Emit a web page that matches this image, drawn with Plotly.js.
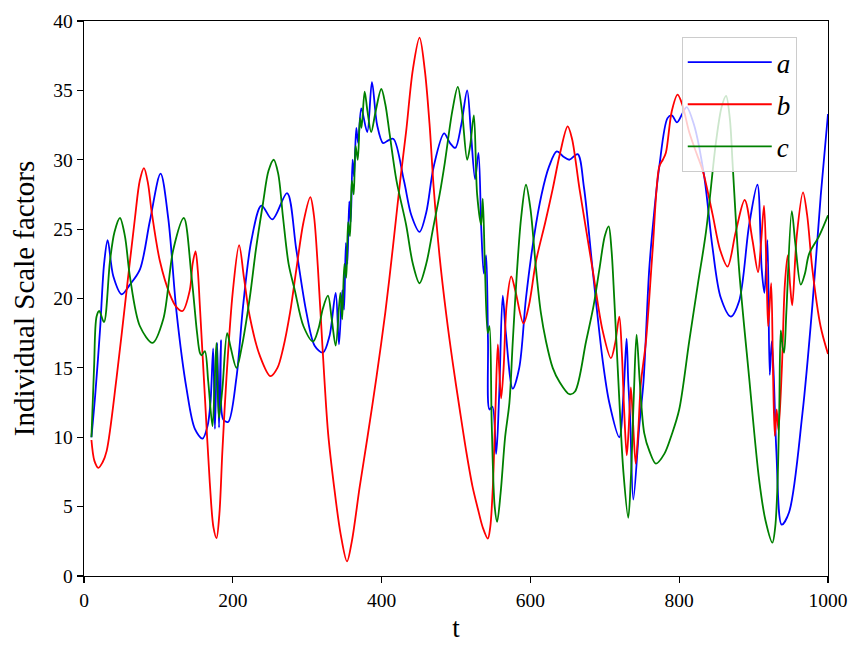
<!DOCTYPE html>
<html>
<head>
<meta charset="utf-8">
<script src="https://cdn.plot.ly/plotly-3.0.1.min.js"></script>
<style>
  html, body { margin: 0; padding: 0; background: #fff; }
  #chart { width: 865px; height: 659px; }
</style>
</head>
<body>
<div id="chart"></div>
<script>
// Individual scale factors a(t), b(t), c(t)

const tA = [10, 15, 21.5, 27, 31.8, 39.4, 50.6, 61.7, 75.2, 88.6, 102.9, 113.2, 124.4, 137.8, 149, 159.3, 166, 170, 173.6, 176, 179, 181.5, 184, 187, 193.7,
  204.9, 213.9, 225, 238.5, 253.2, 272.9, 285.4, 298.9, 310, 321.2, 330, 338.3, 342.7, 347.2, 349.5, 352, 354, 356.5, 358.5, 361, 363, 366, 368.5,
  372.7, 380.7, 387, 394, 402, 409, 416, 430, 440, 451, 460, 470, 484, 492, 499, 507, 515, 520, 525.7, 530.2, 534, 537.4, 540.5, 543, 545, 549,
  554, 558, 562.8, 567, 576.3, 585, 594, 605, 615, 625, 635.4, 645, 652.3, 663.5, 672, 683.6, 697, 706, 719.5, 725, 729.3, 731.5, 734, 738.3,
  746.3, 752, 759.7, 766, 773.2, 784.3, 790, 797, 804, 810, 820, 833.6, 844.7, 855.9, 869.4, 880.5, 894, 905.1, 910.9, 914.5, 918.6, 921.7,
  924.4, 927, 930.6, 937.8, 947.7, 965.6, 979, 990.2, 1000];
const a = [10, 13, 17.7, 22.5, 24.2, 21.6, 20.3, 21.0, 22.1, 25.6, 29.0, 25.8, 19.0, 13.5, 10.6, 9.9, 10.8, 12.5, 16.4, 10.6, 16.8, 10.7, 17.0, 11.3, 11.1,
  14.3, 19.5, 24.2, 26.7, 25.7, 27.6, 23.5, 19.0, 16.6, 16.1, 17.3, 20.4, 16.7, 20.6, 19.2, 24.0, 22.5, 27.0, 25.5, 30.0, 28.8, 32.3, 31.2,
  33.7, 32.0, 35.6, 32.5, 31.2, 31.4, 31.5, 28.5, 26.0, 24.8, 26.2, 29.5, 31.9, 31.2, 30.85, 32.5, 35.0, 32.0, 28.6, 30.5, 25.0, 21.8, 23.1, 17.0, 12.0, 12.2,
  8.8, 13.0, 20.2, 17.5, 13.5, 15.0, 20.0, 24.5, 27.5, 29.5, 30.6, 30.2, 30.0, 30.4, 28.0, 22.1, 15.6, 12.5, 10.0, 13.0, 17.1, 14.0, 11.5, 5.5,
  10.8, 14.0, 22.1, 26.0, 29.5, 33.0, 33.2, 32.7, 33.3, 33.8, 32.5, 28.8, 23.7, 20.05, 18.7, 19.8, 25.3, 28.2, 22.1, 20.4, 24.2, 14.5,
  16.9, 14.5, 9.0, 3.7, 4.6, 11.7, 19.5, 27.4, 33.3];

const tB = [10, 14, 19.3, 25, 30.4, 43.8, 57.3, 68.5, 75, 80.6, 86, 90.8, 102, 115.4, 124, 132.4, 142.2, 146, 149.9, 153, 155.7, 162.4, 169.1, 174, 178.1,
  182, 186, 191.5, 200, 208.5, 215, 222.8, 236.2, 250.6, 260, 267.6, 277, 285.4, 295, 304.2, 309, 314.5, 320, 328, 336, 345, 353.5, 360, 370.5,
  381, 393, 405, 415.2, 425, 433.1, 442, 451, 458, 464.4, 470, 478, 487, 495.8, 505, 513.7, 522, 529.4, 536, 542.8, 546, 549.5, 553, 556.2,
  558.5, 560.7, 564, 568, 574.2, 580, 590.7, 598, 607.6, 620, 630, 640, 650.1, 656, 666, 683.6, 697, 708.2, 714, 719.5, 723, 726.2, 729.5, 732,
  735, 738, 741.5, 745, 748.5, 755.3, 764.3, 773.2, 778, 782.1, 790, 797.8, 804, 813.4, 823, 831.7, 844.7, 855, 865, 876, 888, 898.5, 906, 910,
  914, 917.3, 919.6, 923.6, 926, 928.5, 931, 933.4, 938, 942, 946, 949, 951.9, 958, 966.4, 972, 979, 990, 1000];
const b = [9.8, 8.3, 7.8, 8.2, 9.0, 14.3, 20.6, 25.8, 28.5, 29.4, 28.3, 26.3, 22.7, 20.3, 19.4, 19.1, 20.6, 22.5, 23.4, 22.0, 19.5, 13.0, 6.7, 3.5, 2.73,
  4.5, 9.0, 14.3, 20.5, 23.85, 21.5, 18.7, 15.9, 14.4, 15.0, 16.4, 19.0, 22.1, 25.5, 27.3, 26.0, 22.1, 17.0, 10.35, 6.5, 3.0, 1.05, 2.5, 6.4,
  10.0, 14.3, 19.0, 23.7, 28.5, 32.1, 36.5, 38.8, 36.5, 32.6, 28.0, 23.0, 18.8, 15.3, 12.0, 9.0, 6.5, 4.85, 3.5, 2.7, 3.5, 6.4, 12.0, 16.7,
  14.5, 12.8, 15.0, 19.5, 21.6, 20.5, 18.2, 19.5, 22.7, 25.5, 27.9, 30.5, 32.4, 31.5, 27.9, 22.1, 17.7, 15.7, 16.8, 18.7, 16.0, 11.7, 8.7, 10.5,
  13.6, 11.0, 8.1, 10.5, 13.9, 16.9, 23.5, 29.5, 30.0, 30.5, 33.5, 34.7, 34.0, 32.0, 30.5, 29.2, 26.1, 23.5, 22.3, 24.8, 27.1, 24.2, 21.9, 24.0,
  26.7, 22.1, 18.0, 21.1, 15.0, 10.1, 12.0, 10.5, 15.0, 21.0, 23.1, 21.0, 19.5, 24.5, 27.65, 26.0, 22.1, 18.0, 16.0];

const tC = [10, 13.5, 16.9, 20.5, 26.8, 34.9, 41, 48.3, 55, 61.7, 75.2, 92.2, 106.5, 119.9, 134.2, 144.5, 152, 155.7, 158, 162.4, 167, 172.7, 176, 178.1,
  181.3, 186, 192.4, 197, 204.9, 212, 222.8, 231, 240.7, 248, 255, 261, 267.6, 275, 283.3, 295, 307.8, 315, 321.2, 327.9, 333, 338.3, 344.5, 347,
  350, 352.5, 355, 357.5, 360, 362.5, 365, 368, 371, 373, 377.2, 381, 386, 392, 399.6, 405, 410.7, 420, 433, 442, 451, 460, 469, 478, 485, 495,
  502.4, 508, 515, 519, 524, 528.4, 533.8, 536, 539, 542.7, 545, 548, 552, 555.3, 560, 566, 571.8, 576.3, 582, 587.5, 594, 600, 607.6, 614, 621,
  630, 639, 652.4, 660, 674.8, 685, 692.7, 700, 705.2, 709, 712.8, 719.5, 725, 731.5, 735, 739, 742.7, 747, 753, 760, 768.7, 780, 790, 800,
  813.4, 825, 836, 849.5, 857, 863, 868, 872, 880.5, 894, 907.4, 916, 925.3, 929, 932, 934.5, 936.5, 939, 941, 944, 951.3, 956, 963.4, 969,
  974.5, 988, 1000];
const c = [10, 15, 18.7, 19.1, 18.3, 22.7, 24.8, 25.8, 24.5, 21.6, 18.0, 16.8, 18.5, 23.5, 25.8, 21.6, 17.5, 16.1, 15.9, 16.2, 14.0, 10.8, 14.5, 16.8,
  11.4, 13.5, 17.5, 16.5, 15.0, 16.5, 20.05, 23.5, 26.9, 29.2, 30.0, 29.0, 25.8, 22.5, 20.6, 18.0, 16.9, 17.8, 19.3, 20.2, 18.5, 16.6, 20.4, 18.5,
  22.5, 21.5, 25.5, 24.5, 28.5, 27.5, 31.0, 30.0, 33.0, 32.3, 34.9, 33.5, 32.0, 33.5, 35.1, 34.0, 31.9, 28.5, 25.3, 22.5, 21.1, 22.5, 25.0, 27.5, 29.8, 33.5,
  35.25, 33.5, 30.0, 31.0, 33.2, 27.5, 25.3, 27.2, 22.0, 17.5, 18.0, 11.0, 5.0, 3.9, 6.0, 10.0, 12.5, 16.9, 22.0, 25.8, 28.2, 26.5, 22.1, 19.0, 16.9,
  15.0, 14.0, 13.1, 13.3, 16.9, 19.5, 22.1, 24.5, 25.2, 23.5, 19.9, 12.7, 7.5, 4.2, 7.0, 13.0, 17.4, 14.0, 10.3, 9.0, 8.1, 8.8, 10.2, 12.0,
  16.9, 21.0, 24.8, 31.3, 33.8, 34.6, 33.0, 29.5, 22.1, 14.3, 6.95, 4.0, 2.4, 3.5, 6.4, 12.0, 17.7, 16.5, 16.1, 19.0, 26.3, 24.0, 21.0, 21.8,
  23.2, 24.5, 26.0];

const xTicks = [0, 200, 400, 600, 800, 1000];
const yTicks = [0, 5, 10, 15, 20, 25, 30, 35, 40];

const serif = "Liberation Serif, DejaVu Serif, serif";

function curve(t, v, name, color) {
  return {
    x: t, y: v, name: name, legendgroup: name,
    type: "scatter", mode: "lines",
    line: { color: color, width: 1.8, shape: "spline", smoothing: 0.9 },
    hoverinfo: "skip"
  };
}

const traces = [
  curve(tA, a, "<i>a</i>", "#0000ff"),
  curve(tB, b, "<i>b</i>", "#ff0000"),
  curve(tC, c, "<i>c</i>", "#008000")
];

const axisCommon = {
  showline: true, mirror: true, linecolor: "#000", linewidth: 1.3,
  ticks: "outside", ticklen: 6, tickwidth: 1.2, tickcolor: "#000",
  showgrid: false, zeroline: false,
  tickfont: { family: serif, size: 19.5, color: "#000" }
};

const layout = {
  width: 865, height: 659,
  margin: { l: 84, r: 37, t: 21, b: 83 },
  paper_bgcolor: "#fff", plot_bgcolor: "#fff",
  font: { family: serif, color: "#000" },
  showlegend: true,
  legend: {
    x: 0.958, y: 0.971, xanchor: "right", yanchor: "top",
    bgcolor: "rgba(255,255,255,0.8)", bordercolor: "#cccccc", borderwidth: 1,
    font: { family: serif, size: 27, color: "#000" },
    tracegroupgap: 4, itemwidth: 84, entrywidth: 112
  },
  xaxis: Object.assign({}, axisCommon, {
    range: [0, 1000], tickvals: xTicks, ticktext: xTicks.map(String),
    title: { text: "t", font: { family: serif, size: 27 }, standoff: 8 }
  }),
  yaxis: Object.assign({}, axisCommon, {
    range: [0, 40], tickvals: yTicks, ticktext: yTicks.map(String),
    title: { text: "Individual Scale factors", font: { family: serif, size: 29 }, standoff: 10 }
  })
};

Plotly.newPlot("chart", traces, layout, { displayModeBar: false, staticPlot: true });
</script>
</body>
</html>
